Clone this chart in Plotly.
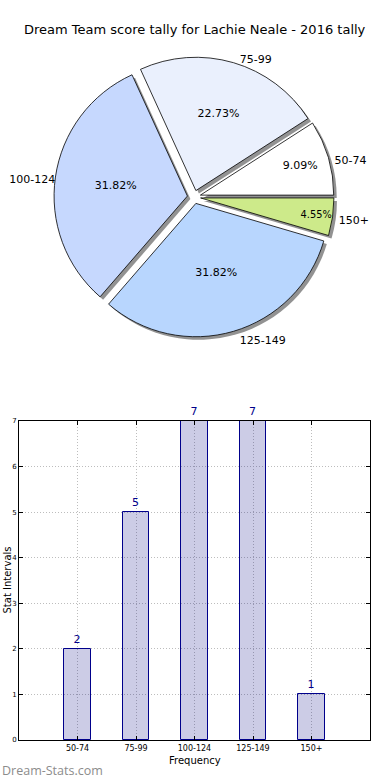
import plotly.graph_objects as go

categories = ["50-74", "75-99", "100-124", "125-149", "150+"]
counts = [2, 5, 7, 7, 1]
pie_colors = ["#ffffff", "#eaf0fd", "#c6d8fe", "#b8d6fe", "#cdea8a"]
y_ticks = [0, 1, 2, 3, 4, 5, 6, 7]
title_text = "Dream Team score tally for Lachie Neale - 2016 tally"

W, H = 390, 780
FONT = "DejaVu Sans"

def px(x):
    return x / W

def py(y):
    return 1 - y / H

# pie geometry (screen pixels)
cx, cy, half = 194, 197, 140
dx, dy = 3, 3  # shadow offset
total = sum(counts)
rot = 90 - 360 * counts[0] / total  # first slice starts at 3 o'clock, counterclockwise

def dom(cxp, cyp):
    return dict(x=[px(cxp - half), px(cxp + half)],
                y=[py(cyp + half), py(cyp - half)])

fig = go.Figure()

# shadow trace (also carries outside labels)
fig.add_trace(go.Pie(
    labels=categories, values=counts, sort=False, direction="counterclockwise",
    rotation=rot, pull=0.05, domain=dom(cx + dx, cy + dy),
    marker=dict(colors=["rgba(110,110,110,0.75)"] * len(categories), line=dict(width=0)),
    textposition="outside", texttemplate="%{label}",
    textfont=dict(family=FONT, size=11, color="black"),
    showlegend=False, hoverinfo="skip"))

fig.add_trace(go.Pie(
    labels=categories, values=counts, sort=False, direction="counterclockwise",
    rotation=rot, pull=0.05, domain=dom(cx, cy),
    marker=dict(colors=pie_colors, line=dict(color="black", width=0.8)),
    textposition="inside", insidetextorientation="horizontal",
    texttemplate="%{percent:.2%}",
    textfont=dict(family=FONT, size=11, color="black"),
    showlegend=False))

fig.add_trace(go.Bar(
    x=list(range(len(categories))), y=counts, width=0.45,
    marker=dict(color="rgba(0,0,128,0.2)", line=dict(color="#00008b", width=1)),
    text=[str(c) for c in counts], textposition="outside", cliponaxis=False,
    textfont=dict(family=FONT, size=11, color="#00008b"),
    xaxis="x", yaxis="y", showlegend=False))

x0, x1 = 19, 370
y0, y1 = 421, 740
grid = dict(showgrid=True, gridcolor="#bdbdbd", griddash="1px,2px", gridwidth=1)
fig.update_layout(
    width=W, height=H, margin=dict(l=0, r=0, t=0, b=0, autoexpand=False),
    paper_bgcolor="white", plot_bgcolor="white",
    font=dict(family=FONT, color="black"),
    xaxis=dict(domain=[px(x0), px(x1)], range=[-1, 5], automargin=False,
               tickmode="array", tickvals=list(range(len(categories))), ticktext=categories,
               tickfont=dict(size=8), ticks="inside", ticklen=4, tickcolor="black",
               showline=True, linecolor="black", linewidth=1, mirror="ticks",
               zeroline=False, anchor="y", fixedrange=True, **grid),
    yaxis=dict(domain=[py(y1), py(y0)], range=[0, 7], automargin=False,
               tickmode="array", tickvals=y_ticks, ticktext=[str(v) for v in y_ticks],
               tickfont=dict(size=7), ticks="inside", ticklen=4, tickcolor="black",
               showline=True, linecolor="black", linewidth=1, mirror="ticks",
               zeroline=False, anchor="x", fixedrange=True, **grid),
    bargap=0,
    annotations=[
        dict(text=title_text, x=px(195), y=py(30), xref="paper", yref="paper",
             showarrow=False, font=dict(size=13, family=FONT, color="black"),
             xanchor="center", yanchor="middle"),
        dict(text="Frequency", x=px((x0 + x1) / 2), y=py(760), xref="paper", yref="paper",
             showarrow=False, font=dict(size=10, family=FONT), xanchor="center", yanchor="middle"),
        dict(text="Stat Intervals", x=px(6.5), y=py(580), xref="paper", yref="paper",
             showarrow=False, font=dict(size=10, family=FONT), textangle=-90,
             xanchor="center", yanchor="middle"),
        dict(text="Dream-Stats.com", x=px(0), y=py(770), xref="paper", yref="paper",
             showarrow=False, font=dict(size=12.5, family="Open Sans", color="#8c8c8c"),
             xanchor="left", yanchor="middle"),
    ],
)

fig.write_html("out.html", config={"displayModeBar": False},
               post_script="document.body.style.margin='0';document.body.style.padding='0';")
